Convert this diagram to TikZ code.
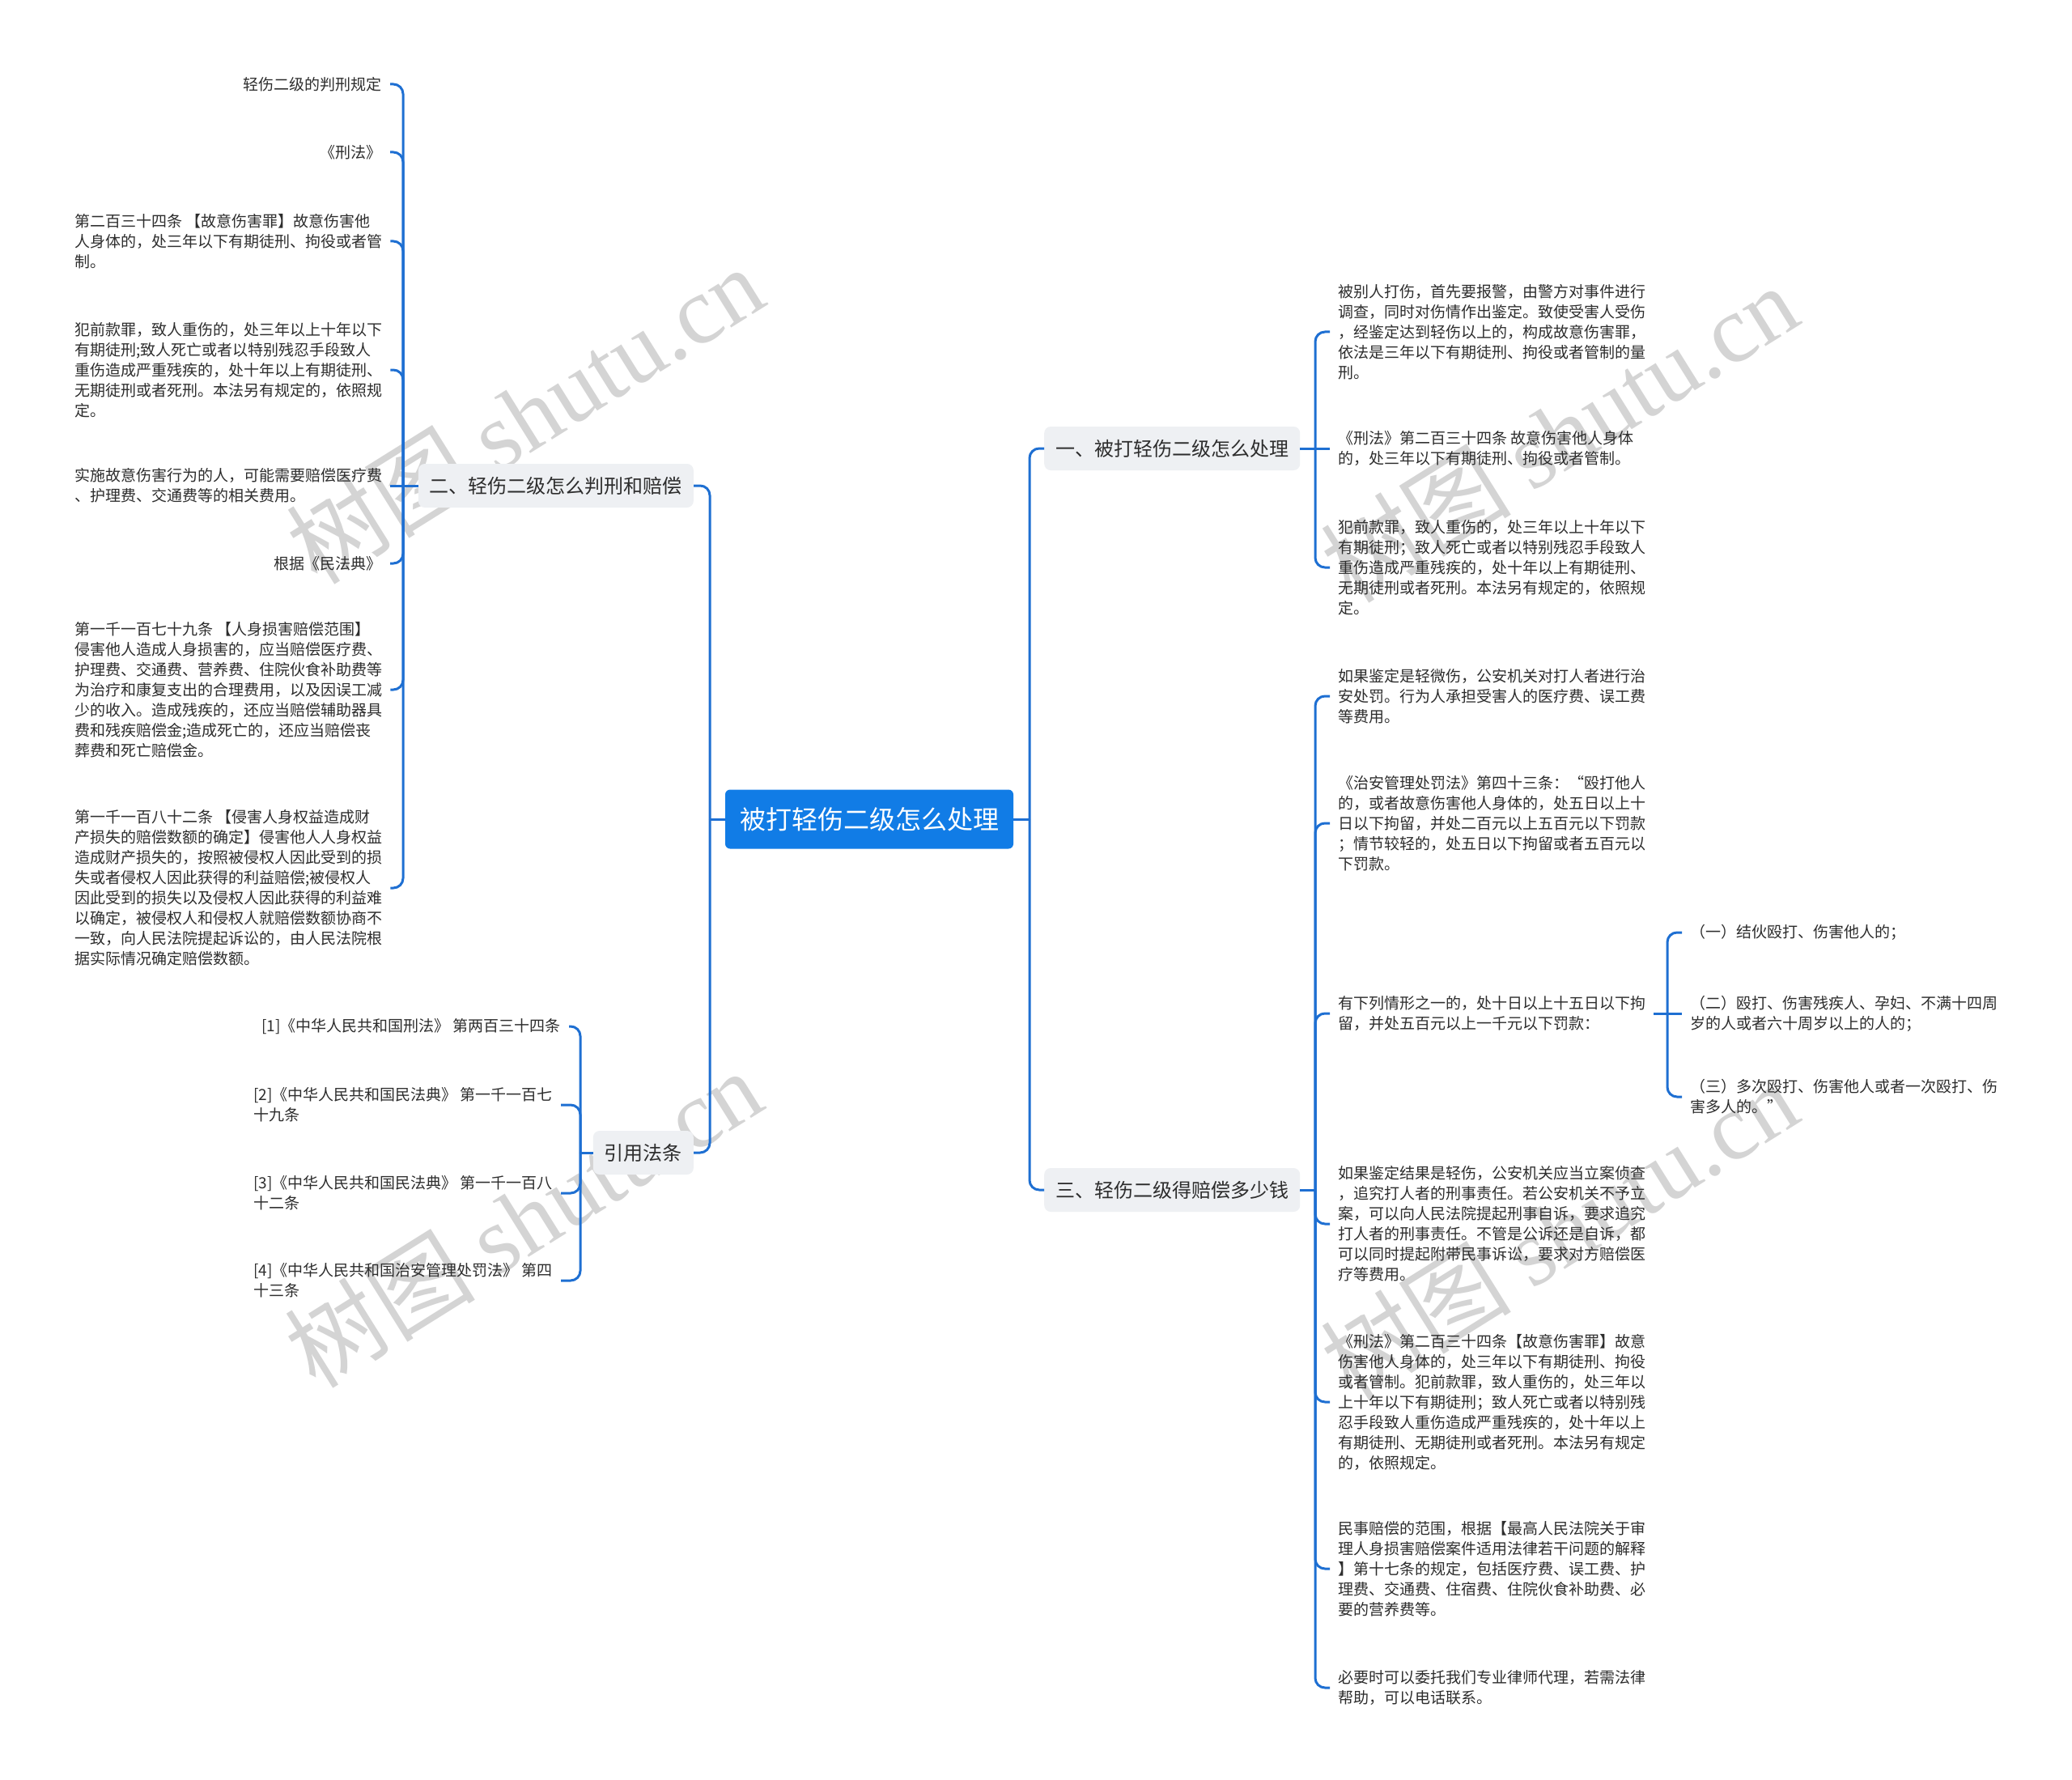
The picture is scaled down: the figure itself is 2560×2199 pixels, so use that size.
\documentclass[tikz,border=0pt]{standalone}
\usepackage{fontspec}
\setmainfont{Noto Sans CJK SC}
\newfontfamily\wmserif{Liberation Serif}
\definecolor{lineblue}{RGB}{30,111,210}
\definecolor{rootblue}{RGB}{17,124,230}
\definecolor{brgrey}{RGB}{238,240,243}
\definecolor{txt}{RGB}{45,45,45}
\definecolor{wm}{RGB}{212,212,212}
\newcommand\leaffont{\fontsize{19pt}{25pt}\selectfont}
\newcommand\brfont{\fontsize{24pt}{30pt}\selectfont}
\newcommand\rootfont{\fontsize{32pt}{38pt}\selectfont}
\newcommand\wmfont{\fontsize{118pt}{130pt}\selectfont}
\begin{document}
\begin{tikzpicture}[x=1pt,y=-1pt,
  conn/.style={draw=lineblue,line width=3pt,rounded corners=12pt},
  leaf/.style={inner sep=0pt,align=left,text=txt,font=\leaffont},
  br/.style={fill=brgrey,rounded corners=8pt,inner xsep=14pt,inner ysep=0pt,minimum height=54pt,text=txt,font=\brfont},
  wmk/.style={text=wm,rotate=32,font=\wmfont,inner sep=0pt}]
\fill[white] (0,0) rectangle (2560,2199);
\useasboundingbox (0,0) rectangle (2560,2199);

% watermarks
\node[wmk] (w1) at (648,512) {树图 {\wmserif shutu.cn}};
\node[wmk] (w2) at (1926,535) {树图 {\wmserif shutu.cn}};
\node[wmk] (w3) at (646,1505) {树图 {\wmserif shutu.cn}};
\node[wmk] (w4) at (1926,1520) {树图 {\wmserif shutu.cn}};

% root and branches
\node[fill=rootblue,rounded corners=6pt,text=white,font=\rootfont,minimum width=356pt,minimum height=73pt,inner sep=0pt] (root) at (1074,1012) {被打轻伤二级怎么处理};
\node[br,anchor=west] (b1) at (1290,554) {一、被打轻伤二级怎么处理};
\node[br,anchor=west] (b3) at (1290,1470) {三、轻伤二级得赔偿多少钱};
\node[br,anchor=east] (b2) at (857,600) {二、轻伤二级怎么判刑和赔偿};
\node[br,anchor=east] (b4) at (857,1424) {引用法条};

\coordinate (rj) at (1272,1012);
\coordinate (lj) at (877,1012);
\draw[conn] (root.east) -- (rj);
\draw[conn] (rj) |- (b1.west);
\draw[conn] (rj) |- (b3.west);
\draw[conn] (root.west) -- (lj);
\draw[conn] (lj) |- (b2.east);
\draw[conn] (lj) |- (b4.east);

% branch 1 leaves
\node[leaf,anchor=west] (a1) at (1653,410) {被别人打伤，首先要报警，由警方对事件进行\\调查，同时对伤情作出鉴定。致使受害人受伤\\，经鉴定达到轻伤以上的，构成故意伤害罪，\\依法是三年以下有期徒刑、拘役或者管制的量\\刑。};
\node[leaf,anchor=west] (a2) at (1653,554) {《刑法》第二百三十四条 故意伤害他人身体\\的，处三年以下有期徒刑、拘役或者管制。};
\node[leaf,anchor=west] (a3) at (1653,701) {犯前款罪，致人重伤的，处三年以上十年以下\\有期徒刑；致人死亡或者以特别残忍手段致人\\重伤造成严重残疾的，处十年以上有期徒刑、\\无期徒刑或者死刑。本法另有规定的，依照规\\定。};
\coordinate (j1) at (1625,554);
\draw[conn] (b1.east) -- (j1);
\draw[conn,shorten >=10pt] (j1) |- (a1.west);
\draw[conn,shorten >=10pt] (j1) -- (a2.west);
\draw[conn,shorten >=10pt] (j1) |- (a3.west);

% branch 3 leaves
\node[leaf,anchor=west] (c1) at (1653,860) {如果鉴定是轻微伤，公安机关对打人者进行治\\安处罚。行为人承担受害人的医疗费、误工费\\等费用。};
\node[leaf,anchor=west] (c2) at (1653,1017) {《治安管理处罚法》第四十三条：“殴打他人\\的，或者故意伤害他人身体的，处五日以上十\\日以下拘留，并处二百元以上五百元以下罚款\\；情节较轻的，处五日以下拘留或者五百元以\\下罚款。};
\node[leaf,anchor=west] (c3) at (1653,1252) {有下列情形之一的，处十日以上十五日以下拘\\留，并处五百元以上一千元以下罚款：};
\node[leaf,anchor=west] (c4) at (1653,1512) {如果鉴定结果是轻伤，公安机关应当立案侦查\\，追究打人者的刑事责任。若公安机关不予立\\案，可以向人民法院提起刑事自诉，要求追究\\打人者的刑事责任。不管是公诉还是自诉，都\\可以同时提起附带民事诉讼，要求对方赔偿医\\疗等费用。};
\node[leaf,anchor=west] (c5) at (1653,1732) {《刑法》第二百三十四条【故意伤害罪】故意\\伤害他人身体的，处三年以下有期徒刑、拘役\\或者管制。犯前款罪，致人重伤的，处三年以\\上十年以下有期徒刑；致人死亡或者以特别残\\忍手段致人重伤造成严重残疾的，处十年以上\\有期徒刑、无期徒刑或者死刑。本法另有规定\\的，依照规定。};
\node[leaf,anchor=west] (c6) at (1653,1938) {民事赔偿的范围，根据【最高人民法院关于审\\理人身损害赔偿案件适用法律若干问题的解释\\】第十七条的规定，包括医疗费、误工费、护\\理费、交通费、住宿费、住院伙食补助费、必\\要的营养费等。};
\node[leaf,anchor=west] (c7) at (1653,2085) {必要时可以委托我们专业律师代理，若需法律\\帮助，可以电话联系。};
\coordinate (j3) at (1625,1470);
\draw[conn] (b3.east) -- (j3);
\foreach \n in {c1,c2,c3,c4,c5,c6,c7}{\draw[conn,shorten >=10pt] (j3) |- (\n.west);}

% sub leaves of c3
\node[leaf,anchor=west] (d1) at (2088,1152) {（一）结伙殴打、伤害他人的；};
\node[leaf,anchor=west] (d2) at (2088,1252) {（二）殴打、伤害残疾人、孕妇、不满十四周\\岁的人或者六十周岁以上的人的；};
\node[leaf,anchor=west] (d3) at (2088,1355) {（三）多次殴打、伤害他人或者一次殴打、伤\\害多人的。”};
\coordinate (j5) at (2060,1252);
\draw[conn,shorten <=10pt] (c3.east) -- (j5);
\draw[conn,shorten >=10pt] (j5) |- (d1.west);
\draw[conn,shorten >=10pt] (j5) -- (d2.west);
\draw[conn,shorten >=10pt] (j5) |- (d3.west);

% branch 2 leaves
\node[leaf,anchor=east] (e1) at (472,104) {轻伤二级的判刑规定};
\node[leaf,anchor=east] (e2) at (472,188) {《刑法》};
\node[leaf,anchor=west] (e3) at (92,298) {第二百三十四条 【故意伤害罪】故意伤害他\\人身体的，处三年以下有期徒刑、拘役或者管\\制。};
\node[leaf,anchor=west] (e4) at (92,457) {犯前款罪，致人重伤的，处三年以上十年以下\\有期徒刑;致人死亡或者以特别残忍手段致人\\重伤造成严重残疾的，处十年以上有期徒刑、\\无期徒刑或者死刑。本法另有规定的，依照规\\定。};
\node[leaf,anchor=west] (e5) at (92,600) {实施故意伤害行为的人，可能需要赔偿医疗费\\、护理费、交通费等的相关费用。};
\node[leaf,anchor=east] (e6) at (472,696) {根据《民法典》};
\node[leaf,anchor=west] (e7) at (92,852) {第一千一百七十九条 【人身损害赔偿范围】\\侵害他人造成人身损害的，应当赔偿医疗费、\\护理费、交通费、营养费、住院伙食补助费等\\为治疗和康复支出的合理费用，以及因误工减\\少的收入。造成残疾的，还应当赔偿辅助器具\\费和残疾赔偿金;造成死亡的，还应当赔偿丧\\葬费和死亡赔偿金。};
\node[leaf,anchor=west] (e8) at (92,1097) {第一千一百八十二条 【侵害人身权益造成财\\产损失的赔偿数额的确定】侵害他人人身权益\\造成财产损失的，按照被侵权人因此受到的损\\失或者侵权人因此获得的利益赔偿;被侵权人\\因此受到的损失以及侵权人因此获得的利益难\\以确定，被侵权人和侵权人就赔偿数额协商不\\一致，向人民法院提起诉讼的，由人民法院根\\据实际情况确定赔偿数额。};
\coordinate (j2) at (498,600);
\draw[conn] (b2.west) -- (j2);
\foreach \n in {e1,e2,e3,e4,e6,e7,e8}{\draw[conn,shorten >=10pt] (j2) |- (\n.east);}
\draw[conn,shorten >=10pt] (j2) -- (e5.east);

% references
\node[leaf,anchor=east] (f1) at (693,1268) {[1]《中华人民共和国刑法》 第两百三十四条};
\node[leaf,anchor=west] (f2) at (313,1365) {[2]《中华人民共和国民法典》 第一千一百七\\十九条};
\node[leaf,anchor=west] (f3) at (313,1474) {[3]《中华人民共和国民法典》 第一千一百八\\十二条};
\node[leaf,anchor=west] (f4) at (313,1582) {[4]《中华人民共和国治安管理处罚法》 第四\\十三条};
\coordinate (j4) at (717,1424);
\draw[conn] (b4.west) -- (j4);
\foreach \n in {f1,f2,f3,f4}{\draw[conn,shorten >=10pt] (j4) |- (\n.east);}
\end{tikzpicture}
\end{document}
